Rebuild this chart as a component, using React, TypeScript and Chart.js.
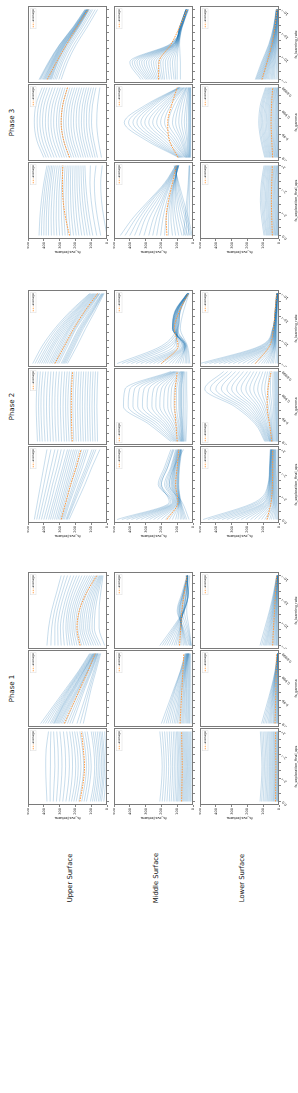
import React, { useEffect, useRef } from 'react';
import { Chart, registerables } from 'chart.js';

Chart.register(...registerables);
Chart.defaults.font.family = "'DejaVu Sans', sans-serif";

// ---------- axes / labels ----------
const xPos = [0, 0.25, 0.5, 0.75, 1];
const xTickVals = [0, 0.1111, 0.2222, 0.3333, 0.4444, 0.5556, 0.6667, 0.7778, 0.8889, 1];
const yTickVals = [0, 100, 200, 300, 400, 500];
const phases = ['Phase 1', 'Phase 2', 'Phase 3'];
const surfaces = ['Upper Surface', 'Middle Surface', 'Lower Surface'];
const paramNames = ['fs_exploration_final_eps', 'fs_gamma', 'fs_learning_rate'];
const epsTickLabels = ['0.0', '2⁻⁴', '2⁻²', '2⁰'];
const gammaTickLabels = ['0.9', '0.99', '0.999', '0.9999'];
const lrTickLabels = ['10⁻⁵', '10⁻⁴', '10⁻³', '10⁻²'];
const yLabel = 'fs_eval/returns';
const avgLabel = 'average';

// ---------- Upper surface ----------
const upP1Eps = [[380,385,388,385,370],[360,360,358,358,355],[340,335,330,332,338],[320,312,308,310,318],[300,290,285,288,298],[280,268,262,265,276],[260,245,238,242,255],[240,225,218,222,236],[225,205,198,205,220],[210,190,182,188,205],[195,175,165,172,190],[178,158,148,155,172],[160,140,130,138,155],[145,125,115,122,140],[130,110,100,108,125],[105,85,78,84,100],[92,74,66,72,88],[80,62,55,60,75],[68,52,44,50,62],[55,40,33,38,50],[45,30,24,28,40],[35,22,15,20,30],[20,10,5,8,15]];
const upP1EpsAvg = [172,152,142,150,162];
const upP1Gamma = [[420,340,260,180,110],[405,330,252,175,105],[390,320,245,170,100],[375,310,240,165,95],[360,300,235,160,90],[350,292,228,155,88],[340,285,220,150,85],[335,280,215,148,82],[330,275,210,145,80],[322,268,205,140,78],[315,260,200,135,75],[308,252,192,130,72],[300,245,185,125,70],[290,238,180,122,68],[280,230,175,120,65],[265,218,165,112,62],[250,205,155,105,60],[235,192,148,100,58],[220,180,140,95,55],[190,155,120,85,50],[170,140,110,78,45],[150,125,100,70,40]];
const upP1GammaAvg = [270,220,170,120,75];
const upP1Lr = [[380,370,350,320,290],[355,350,332,302,270],[330,330,315,285,250],[310,312,298,268,230],[290,295,280,250,210],[270,278,265,235,192],[250,260,250,220,175],[235,248,238,205,158],[220,235,225,190,140],[205,222,212,178,125],[190,210,200,165,110],[175,198,188,152,98],[160,185,175,140,85],[145,172,162,128,75],[130,160,150,115,65],[115,148,138,105,58],[100,135,125,95,50],[85,122,112,85,45],[70,110,100,75,40],[55,95,88,65,35],[40,80,75,55,30],[15,50,50,40,25]];
const upP1LrAvg = [170,190,175,130,65];

const upP2Eps = [[460,440,420,400,380],[445,422,400,378,355],[430,405,380,355,330],[415,388,362,335,310],[400,370,345,315,290],[385,355,328,298,270],[370,340,310,280,250],[358,328,298,268,238],[345,315,285,255,225],[332,302,272,242,212],[320,290,260,230,200],[310,280,250,218,188],[300,270,240,205,175],[292,260,228,192,160],[285,250,215,180,145],[278,242,205,168,132],[270,235,195,155,120],[260,220,180,135,95],[255,212,170,125,82],[250,205,160,115,70],[240,190,140,95,45]];
const upP2EpsAvg = [290,260,230,195,165];
const upP2Gamma = [[440,445,448,445,438],[425,430,433,430,422],[410,415,418,415,405],[392,398,400,398,388],[375,380,383,380,372],[358,362,365,362,355],[340,345,348,345,338],[322,328,330,328,320],[305,310,312,310,302],[288,292,295,292,285],[270,275,278,275,268],[255,260,262,260,252],[240,245,248,245,238],[225,230,232,230,222],[210,214,216,214,208],[195,199,201,199,193],[180,184,186,184,178],[165,169,171,169,163],[150,154,156,154,148],[135,138,140,138,133],[120,123,125,123,118],[105,108,110,108,103],[90,93,95,93,88],[75,78,80,78,73],[60,62,64,62,58]];
const upP2GammaAvg = [220,224,226,224,218];
const upP2Lr = [[470,410,330,230,110],[455,395,318,220,105],[440,380,305,210,100],[428,368,295,202,95],[415,355,285,195,90],[402,345,275,188,85],[390,335,265,180,80],[378,322,255,172,75],[365,310,245,165,70],[355,300,238,158,65],[345,290,230,150,60],[335,280,220,142,55],[325,270,210,135,50],[315,260,202,128,48],[305,250,195,120,45],[290,235,180,110,35],[282,228,172,102,32],[275,220,165,95,28],[268,212,158,90,25],[260,205,150,85,22],[250,190,135,75,18]];
const upP2LrAvg = [330,270,210,140,60];

const upP3Eps = [[430,425,415,400,380],[415,412,402,390,370],[400,398,390,378,360],[385,384,378,366,350],[370,370,365,355,340],[352,354,350,342,328],[335,338,335,328,315],[318,322,320,314,302],[300,305,305,300,290],[282,288,290,286,278],[265,272,275,272,265],[248,256,260,258,252],[230,240,245,245,240],[212,224,230,232,228],[195,208,215,218,215],[178,192,200,204,202],[160,175,185,190,190],[142,158,170,176,178],[125,142,155,162,165],[108,126,140,148,152],[90,110,125,135,140],[65,85,100,108,105],[40,60,75,80,70],[0,20,35,40,30]];
const upP3EpsAvg = [237,262,278,282,280];
const upP3Gamma = [[400,445,460,450,410],[385,428,442,432,395],[370,410,425,415,380],[352,392,408,398,362],[335,375,390,380,345],[318,358,372,362,328],[300,340,355,345,310],[285,322,338,328,295],[270,305,320,310,280],[255,290,305,295,265],[240,275,290,280,250],[225,260,275,265,235],[210,245,260,250,220],[195,230,244,235,205],[180,215,228,220,190],[165,198,212,204,175],[150,180,195,188,160],[135,165,178,172,145],[120,150,162,155,130],[105,134,146,140,115],[90,118,130,125,100],[75,100,114,108,85],[60,85,98,92,70],[35,55,65,60,45]];
const upP3GammaAvg = [237,275,290,280,250];
const upP3Lr = [[430,370,300,215,140],[425,366,298,212,138],[420,362,295,210,135],[412,357,291,207,132],[405,352,288,205,130],[400,348,285,202,129],[395,345,282,200,128],[390,341,279,198,126],[385,338,276,196,125],[380,334,273,194,123],[375,330,270,192,122],[370,326,267,190,121],[365,322,265,188,120],[360,318,260,185,118],[355,314,256,182,116],[350,310,252,180,115],[340,300,245,175,110],[330,290,235,165,100],[320,280,225,155,90],[305,265,210,140,75],[290,250,195,125,60]];
const upP3LrAvg = [378,320,256,190,120];

// ---------- Middle surface ----------
const midP1Eps = [[210,200,195,200,210],[195,186,182,186,195],[180,172,168,172,180],[165,158,154,158,165],[150,145,140,145,150],[138,132,129,132,138],[125,120,118,120,125],[115,110,108,110,115],[105,100,98,100,105],[98,92,90,92,98],[90,85,82,85,90],[82,78,76,78,82],[75,72,70,72,75],[68,66,64,66,68],[62,60,58,60,62],[56,54,52,54,56],[50,48,46,48,50],[44,42,40,42,44],[38,36,35,36,38],[32,30,29,30,32],[25,24,23,24,25],[18,18,17,18,18],[12,12,11,12,12]];
const midP1EpsAvg = [72,70,68,70,72];
const midP1Gamma = [[200,160,120,80,50],[185,150,115,78,48],[170,140,110,75,45],[158,130,102,72,42],[145,120,95,68,40],[132,110,88,64,39],[120,100,82,60,38],[110,92,78,58,36],[100,85,72,55,35],[90,78,68,52,34],[80,70,62,50,32],[72,64,58,48,31],[65,58,52,45,30],[58,52,48,42,29],[50,45,42,38,28],[42,40,38,35,27],[35,33,32,30,25],[28,28,27,26,22],[22,22,22,22,20],[12,13,14,15,15]];
const midP1GammaAvg = [82,76,70,64,58];
const midP1Lr = [[210,130,60,30,45],[195,122,58,30,42],[180,115,55,30,40],[165,108,55,31,39],[150,100,55,32,38],[135,92,58,36,36],[120,85,60,40,35],[108,82,62,42,35],[95,80,65,45,35],[82,78,70,50,35],[70,75,75,55,35],[60,72,80,58,35],[50,70,85,60,35],[42,68,90,62,35],[35,65,95,65,35],[25,60,100,70,38],[20,50,85,62,34],[15,40,70,55,30],[12,32,55,42,25],[10,25,40,30,20]];
const midP1LrAvg = [85,78,70,55,38];

const midP2Eps = [[480,150,200,160,120],[450,140,210,170,130],[420,130,220,180,140],[390,125,200,160,125],[360,120,180,140,110],[330,115,170,135,105],[300,110,160,130,100],[275,105,150,125,98],[250,100,140,120,95],[225,98,135,118,92],[200,95,130,115,90],[175,92,125,112,88],[150,90,120,110,85],[130,89,115,105,82],[110,88,110,100,80],[95,86,105,98,79],[80,85,100,95,78],[70,82,98,92,76],[60,80,95,90,75],[50,78,92,88,72],[40,75,90,85,70],[25,70,150,120,60]];
const midP2EpsAvg = [165,95,110,100,90];
const midP2Gamma = [[140,280,440,430,140],[130,260,410,400,130],[120,240,380,370,120],[115,220,350,340,115],[110,200,320,310,110],[105,185,290,280,105],[100,170,260,250,100],[95,155,235,225,95],[90,140,210,200,90],[85,128,185,178,85],[80,115,160,155,80],[78,105,140,136,78],[75,95,120,118,75],[72,88,105,104,72],[70,80,90,90,70],[68,76,84,84,68],[65,72,78,78,65],[62,68,74,74,62],[60,65,70,70,60],[55,58,60,60,55],[50,50,50,50,50],[45,40,38,40,40]];
const midP2GammaAvg = [100,108,115,112,100];
const midP2Lr = [[480,200,100,80,30],[450,180,95,82,29],[420,160,90,85,28],[390,140,95,90,29],[360,120,100,95,30],[330,105,105,98,31],[300,90,110,100,32],[275,80,115,102,33],[250,70,120,105,35],[225,65,122,108,35],[200,60,125,110,35],[175,58,128,112,36],[150,55,130,115,38],[130,52,130,112,36],[110,50,130,110,35],[95,50,128,105,34],[80,50,125,100,32],[65,48,120,95,31],[50,45,115,90,30],[40,42,108,85,29],[30,40,100,80,28],[20,35,80,60,25]];
const midP2LrAvg = [200,95,118,85,30];

const midP3Eps = [[460,380,280,180,110],[430,360,270,175,108],[400,340,260,170,105],[370,320,245,165,102],[340,300,230,160,100],[310,275,215,155,98],[280,250,200,150,95],[255,230,190,145,95],[230,210,180,140,95],[205,190,165,132,92],[180,170,150,125,90],[155,155,142,122,90],[130,140,135,120,90],[110,125,128,118,92],[90,110,120,115,95],[70,95,110,112,98],[50,80,100,110,100],[35,65,90,105,105],[20,50,80,100,110],[12,40,70,95,115],[5,30,60,90,120],[60,50,40,30,25],[45,38,32,26,22],[30,25,22,20,20]];
const midP3EpsAvg = [165,170,155,130,105];
const midP3Gamma = [[90,300,435,300,90],[85,280,408,285,88],[80,260,380,270,85],[75,240,355,255,82],[70,220,330,240,80],[65,200,305,220,75],[60,180,280,200,70],[55,160,255,185,65],[50,140,230,170,60],[48,125,205,155,58],[45,110,180,140,55],[42,95,155,120,50],[40,80,130,100,45],[38,70,110,88,42],[35,60,90,75,40],[32,50,72,60,35],[30,40,55,45,30],[28,34,42,36,28],[25,28,30,28,25],[22,24,25,24,22],[20,20,20,20,18],[18,18,18,18,17],[15,15,15,15,15]];
const midP3GammaAvg = [95,150,160,135,100];
const midP3Lr = [[330,400,150,70,40],[315,385,145,72,41],[300,370,140,75,42],[290,355,135,78,44],[280,340,130,80,45],[270,325,128,81,45],[260,310,125,82,45],[250,295,122,84,45],[240,280,120,85,45],[230,265,118,85,44],[220,250,115,85,42],[210,235,112,82,41],[200,220,110,80,40],[190,205,108,79,39],[180,190,105,78,38],[165,175,102,76,36],[150,160,100,75,35],[135,145,98,74,34],[120,130,95,72,32],[110,115,92,71,31],[100,100,90,70,30],[80,80,85,68,28]];
const midP3LrAvg = [218,215,140,85,38];

// ---------- Lower surface ----------
const lowP1Eps = [[120,112,108,112,118],[110,104,100,104,109],[100,95,92,95,100],[90,86,83,86,90],[82,78,75,78,82],[74,70,68,70,74],[66,62,60,62,66],[59,56,54,56,59],[52,50,48,50,52],[46,44,42,44,46],[40,38,37,38,40],[35,33,32,33,35],[30,28,27,28,30],[25,24,23,24,25],[20,19,18,19,20],[16,15,14,15,16],[12,11,11,11,12],[9,8,8,8,9],[6,6,5,6,6],[4,4,3,4,4],[2,2,2,2,2],[1,1,1,1,1]];
const lowP1EpsAvg = [22,21,20,21,22];
const lowP1Gamma = [[110,80,50,25,10],[100,72,46,24,10],[90,65,42,22,9],[80,58,38,21,9],[70,52,35,20,8],[62,47,32,19,8],[55,42,30,18,8],[48,37,27,16,7],[40,32,24,15,7],[35,28,21,14,7],[30,24,18,12,6],[25,20,15,11,6],[20,16,13,10,6],[16,13,11,9,5],[12,10,9,8,5],[9,8,7,6,5],[6,6,6,5,4],[4,4,4,3,3],[2,2,2,2,2],[1,1,1,1,1]];
const lowP1GammaAvg = [25,22,20,18,16];
const lowP1Lr = [[120,90,60,35,15],[110,82,55,32,14],[100,75,50,30,13],[92,68,46,28,12],[85,62,42,26,12],[78,57,39,24,11],[70,52,36,22,11],[62,47,33,20,10],[55,42,30,19,10],[48,37,27,17,9],[42,33,24,16,9],[36,29,21,14,8],[30,25,19,13,8],[25,21,16,12,7],[20,17,14,11,7],[16,14,12,9,6],[12,11,10,8,6],[8,7,6,5,4],[4,4,3,3,2]];
const lowP1LrAvg = [40,35,28,22,15];

const lowP2Eps = [[480,150,70,60,55],[450,135,68,59,54],[420,120,65,58,52],[390,108,62,56,51],[360,95,60,55,50],[330,88,58,54,49],[300,80,55,52,48],[270,72,52,50,46],[240,65,50,48,45],[210,60,48,46,44],[180,55,45,44,42],[155,50,42,42,40],[130,45,40,40,38],[110,40,38,38,36],[90,35,35,35,35],[75,32,32,32,32],[60,28,30,30,30],[48,24,26,27,28],[35,20,22,24,25],[25,16,18,21,22],[15,12,15,18,20],[8,6,8,10,12],[4,3,4,5,6]];
const lowP2EpsAvg = [76,50,42,40,40];
const lowP2Gamma = [[90,150,280,470,350],[85,140,260,435,325],[80,130,240,400,300],[75,122,220,365,275],[70,115,200,330,250],[65,108,182,300,225],[60,100,165,270,200],[58,92,150,240,180],[55,85,135,210,160],[52,78,120,185,140],[50,70,105,160,120],[48,62,92,135,102],[45,55,80,110,85],[42,50,68,90,72],[40,45,55,70,60],[35,38,45,55,50],[30,32,35,40,38],[25,26,28,32,30],[20,20,22,25,25],[15,16,18,20,20],[12,12,14,15,15],[8,8,9,10,10],[4,4,5,5,5]];
const lowP2GammaAvg = [45,60,75,70,50];
const lowP2Lr = [[500,120,40,25,15],[470,110,39,24,15],[440,100,38,24,14],[410,92,37,23,14],[380,85,36,23,14],[350,78,35,22,13],[320,70,34,22,13],[290,65,33,21,13],[260,60,32,21,13],[230,55,31,20,12],[200,50,30,20,12],[175,46,29,19,12],[150,42,28,19,12],[130,38,26,18,11],[110,35,25,18,11],[95,32,24,17,10],[80,30,22,16,10],[68,28,21,15,10],[55,25,20,15,10],[45,22,19,14,9],[35,20,18,14,9],[20,15,15,12,8],[10,8,8,7,5],[5,4,4,4,3]];
const lowP2LrAvg = [150,60,35,25,15];

const lowP3Eps = [[95,110,118,112,95],[88,102,110,105,88],[80,95,102,98,82],[74,88,94,90,76],[68,80,86,82,70],[62,73,79,75,64],[56,66,72,68,58],[50,60,65,62,52],[45,54,58,55,47],[40,48,52,49,42],[35,42,46,43,37],[30,37,40,38,32],[26,32,35,33,28],[22,27,29,28,23],[18,22,24,23,19],[14,17,19,18,15],[10,13,14,13,11],[7,9,10,9,8],[4,6,6,6,5],[2,3,3,3,2],[1,1,1,1,1]];
const lowP3EpsAvg = [42,46,48,46,42];
const lowP3Gamma = [[90,115,128,118,85],[84,108,120,110,80],[78,100,112,103,74],[72,93,104,96,68],[66,86,96,88,63],[60,79,88,81,58],[55,72,80,74,53],[50,65,72,67,48],[45,58,65,60,43],[40,52,58,54,38],[36,46,52,48,34],[31,40,46,42,30],[27,35,40,37,26],[23,30,34,32,22],[19,25,28,26,18],[15,20,22,21,14],[11,15,17,16,11],[8,11,12,11,8],[5,7,8,7,5],[3,4,4,4,3],[1,1,1,1,1]];
const lowP3GammaAvg = [40,46,50,47,40];
const lowP3Lr = [[150,110,65,35,18],[145,105,62,34,17],[140,100,58,32,16],[135,95,55,30,16],[130,90,52,29,15],[125,86,50,28,15],[120,82,47,26,14],[115,78,45,25,14],[110,75,43,24,13],[105,72,41,23,13],[100,68,39,22,12],[94,64,37,21,12],[88,60,35,20,11],[82,56,32,19,11],[75,52,30,18,10],[68,47,28,16,10],[60,42,25,15,9],[52,37,22,14,9],[45,32,20,12,8],[38,27,17,11,8],[30,22,14,10,7],[20,15,10,8,6],[12,9,7,6,4]];
const lowP3LrAvg = [108,75,45,25,13];

// [row][phase][param] -> [lines, avg]
const panelTable = [
  [[[upP1Eps, upP1EpsAvg], [upP1Gamma, upP1GammaAvg], [upP1Lr, upP1LrAvg]],
   [[upP2Eps, upP2EpsAvg], [upP2Gamma, upP2GammaAvg], [upP2Lr, upP2LrAvg]],
   [[upP3Eps, upP3EpsAvg], [upP3Gamma, upP3GammaAvg], [upP3Lr, upP3LrAvg]]],
  [[[midP1Eps, midP1EpsAvg], [midP1Gamma, midP1GammaAvg], [midP1Lr, midP1LrAvg]],
   [[midP2Eps, midP2EpsAvg], [midP2Gamma, midP2GammaAvg], [midP2Lr, midP2LrAvg]],
   [[midP3Eps, midP3EpsAvg], [midP3Gamma, midP3GammaAvg], [midP3Lr, midP3LrAvg]]],
  [[[lowP1Eps, lowP1EpsAvg], [lowP1Gamma, lowP1GammaAvg], [lowP1Lr, lowP1LrAvg]],
   [[lowP2Eps, lowP2EpsAvg], [lowP2Gamma, lowP2GammaAvg], [lowP2Lr, lowP2LrAvg]],
   [[lowP3Eps, lowP3EpsAvg], [lowP3Gamma, lowP3GammaAvg], [lowP3Lr, lowP3LrAvg]]],
];
const tickLabelSets = [epsTickLabels, gammaTickLabels, lrTickLabels];

// ---------- layout (figure drawn landscape, then rotated) ----------
const FIG_W = 1093;
const FIG_H = 298;
const GROUP_U = [288, 570, 854];
const ROW_V = [28, 114, 200];
const PANEL_W = 77;
const PANEL_H = 79;
const PANEL_STEP = 78;
const ORANGE = '#ff9a40';

const framePlugin = {
  id: 'frame',
  afterDraw(chart: any, _args: any, opts: any) {
    const { ctx, chartArea: a } = chart;
    ctx.save();
    ctx.strokeStyle = '#7a7a7a';
    ctx.lineWidth = 1;
    ctx.strokeRect(a.left + 0.5, a.top + 0.5, a.right - a.left - 1, a.bottom - a.top - 1);
    const w = 20;
    const h = 5.5;
    const x = opts && opts.left ? a.left + 2.5 : a.right - 2.5 - w;
    const y = a.top + 2.5;
    ctx.fillStyle = 'rgba(255,255,255,0.85)';
    ctx.fillRect(x, y, w, h);
    ctx.strokeStyle = '#dcdcdc';
    ctx.lineWidth = 0.5;
    ctx.strokeRect(x, y, w, h);
    ctx.strokeStyle = ORANGE;
    ctx.lineWidth = 0.9;
    ctx.setLineDash([1.4, 0.8]);
    ctx.beginPath();
    ctx.moveTo(x + 1.2, y + h / 2);
    ctx.lineTo(x + 6, y + h / 2);
    ctx.stroke();
    ctx.setLineDash([]);
    ctx.fillStyle = '#222';
    ctx.font = "3px 'DejaVu Sans', sans-serif";
    ctx.textBaseline = 'middle';
    ctx.textAlign = 'left';
    ctx.fillText(avgLabel, x + 7, y + h / 2 + 0.2);
    ctx.restore();
  },
};

function Panel({ row, phase, param }: { row: number; phase: number; param: number }) {
  const ref = useRef<HTMLCanvasElement>(null);
  const showY = param === 0;
  const showX = row === 2;
  const padL = showY ? 15 : 0;
  const padB = showX ? 19 : 3;
  const padT = 1;
  const padR = 1;
  const cw = PANEL_W + padL + padR;
  const ch = PANEL_H + padT + padB;
  const u0 = GROUP_U[phase] + param * PANEL_STEP;
  const v0 = ROW_V[row];
  const legendLeft = phase === 1 && param === 1 && row > 0;

  useEffect(() => {
    const [lines, avg] = panelTable[row][phase][param] as [number[][], number[]];
    const labels = tickLabelSets[param];
    const datasets: any[] = [
      {
        label: avgLabel,
        data: xPos.map((x, i) => ({ x, y: avg[i] })),
        borderColor: ORANGE,
        borderWidth: 1,
        borderDash: [1.6, 1],
        pointRadius: 0,
        cubicInterpolationMode: 'monotone',
      },
      ...lines.map((ln, k) => ({
        label: 'run' + k,
        data: xPos.map((x, i) => ({ x, y: ln[i] })),
        borderColor: 'rgba(31,119,180,0.28)',
        borderWidth: 0.9,
        pointRadius: 0,
        cubicInterpolationMode: 'monotone',
      })),
    ];
    const chart = new Chart(ref.current as HTMLCanvasElement, {
      type: 'line',
      data: { datasets },
      options: {
        animation: false,
        responsive: false,
        events: [],
        layout: { padding: { top: padT, right: padR, left: 0, bottom: 0 }, autoPadding: false } as any,
        plugins: {
          tooltip: { enabled: false },
          legend: { display: false },
          frame: { left: legendLeft },
        } as any,
        scales: {
          x: {
            type: 'linear',
            min: -0.05,
            max: 1.05,
            afterBuildTicks: (s: any) => { s.ticks = xTickVals.map((v) => ({ value: v })); },
            afterFit: (s: any) => { s.height = padB; s.paddingLeft = 0; s.paddingRight = 0; },
            ticks: {
              display: showX,
              autoSkip: false,
              minRotation: 45,
              maxRotation: 45,
              padding: 0,
              color: '#222',
              font: { size: 3.5 },
              callback: (_v: any, i: number) => (i % 3 === 0 ? labels[i / 3] : ''),
            },
            grid: { drawOnChartArea: false, drawTicks: true, tickLength: 2, color: '#333', lineWidth: 0.6 },
            border: { display: false },
            title: { display: showX, text: paramNames[param], font: { size: 3.5 }, color: '#222', padding: 0 },
          },
          y: {
            type: 'linear',
            min: 0,
            max: 500,
            afterBuildTicks: (s: any) => { s.ticks = yTickVals.map((v) => ({ value: v })); },
            afterFit: (s: any) => { s.width = padL; s.paddingTop = 0; s.paddingBottom = 0; },
            ticks: { display: showY, padding: 1, color: '#222', font: { size: 3.5 } },
            grid: { drawOnChartArea: false, drawTicks: showY, tickLength: 2, color: '#333', lineWidth: 0.6 },
            border: { display: false },
            title: { display: showY, text: yLabel, font: { size: 3.5 }, color: '#222', padding: 0 },
          },
        },
      },
      plugins: [framePlugin],
    } as any);
    return () => chart.destroy();
  }, []);

  return (
    <canvas
      ref={ref}
      width={cw}
      height={ch}
      style={{ position: 'absolute', left: u0 - padL, top: v0 - padT, width: cw, height: ch }}
    />
  );
}

export default function App() {
  const panels: JSX.Element[] = [];
  for (let r = 0; r < 3; r++)
    for (let p = 0; p < 3; p++)
      for (let q = 0; q < 3; q++)
        panels.push(<Panel key={`${r}-${p}-${q}`} row={r} phase={p} param={q} />);

  const textStyle: React.CSSProperties = {
    position: 'absolute',
    fontFamily: "'DejaVu Sans', sans-serif",
    color: '#111',
    whiteSpace: 'nowrap',
    transform: 'translate(-50%, -50%)',
    lineHeight: 1,
  };

  return (
    <div style={{ position: 'absolute', left: 0, top: 0, width: FIG_H, height: FIG_W, overflow: 'hidden', background: '#fff' }}>
      <div
        style={{
          position: 'absolute',
          left: 0,
          top: 0,
          width: FIG_W,
          height: FIG_H,
          transformOrigin: '0 0',
          transform: `translate(0px, ${FIG_W}px) rotate(-90deg)`,
          background: '#fff',
        }}
      >
        {phases.map((t, i) => (
          <div key={t} style={{ ...textStyle, left: GROUP_U[i] + PANEL_STEP + PANEL_W / 2, top: 12, fontSize: 7 }}>{t}</div>
        ))}
        {surfaces.map((t, i) => (
          <div key={t} style={{ ...textStyle, left: 215, top: ROW_V[i] + PANEL_H / 2 + 2, fontSize: 6.8 }}>{t}</div>
        ))}
        {panels}
      </div>
    </div>
  );
}
